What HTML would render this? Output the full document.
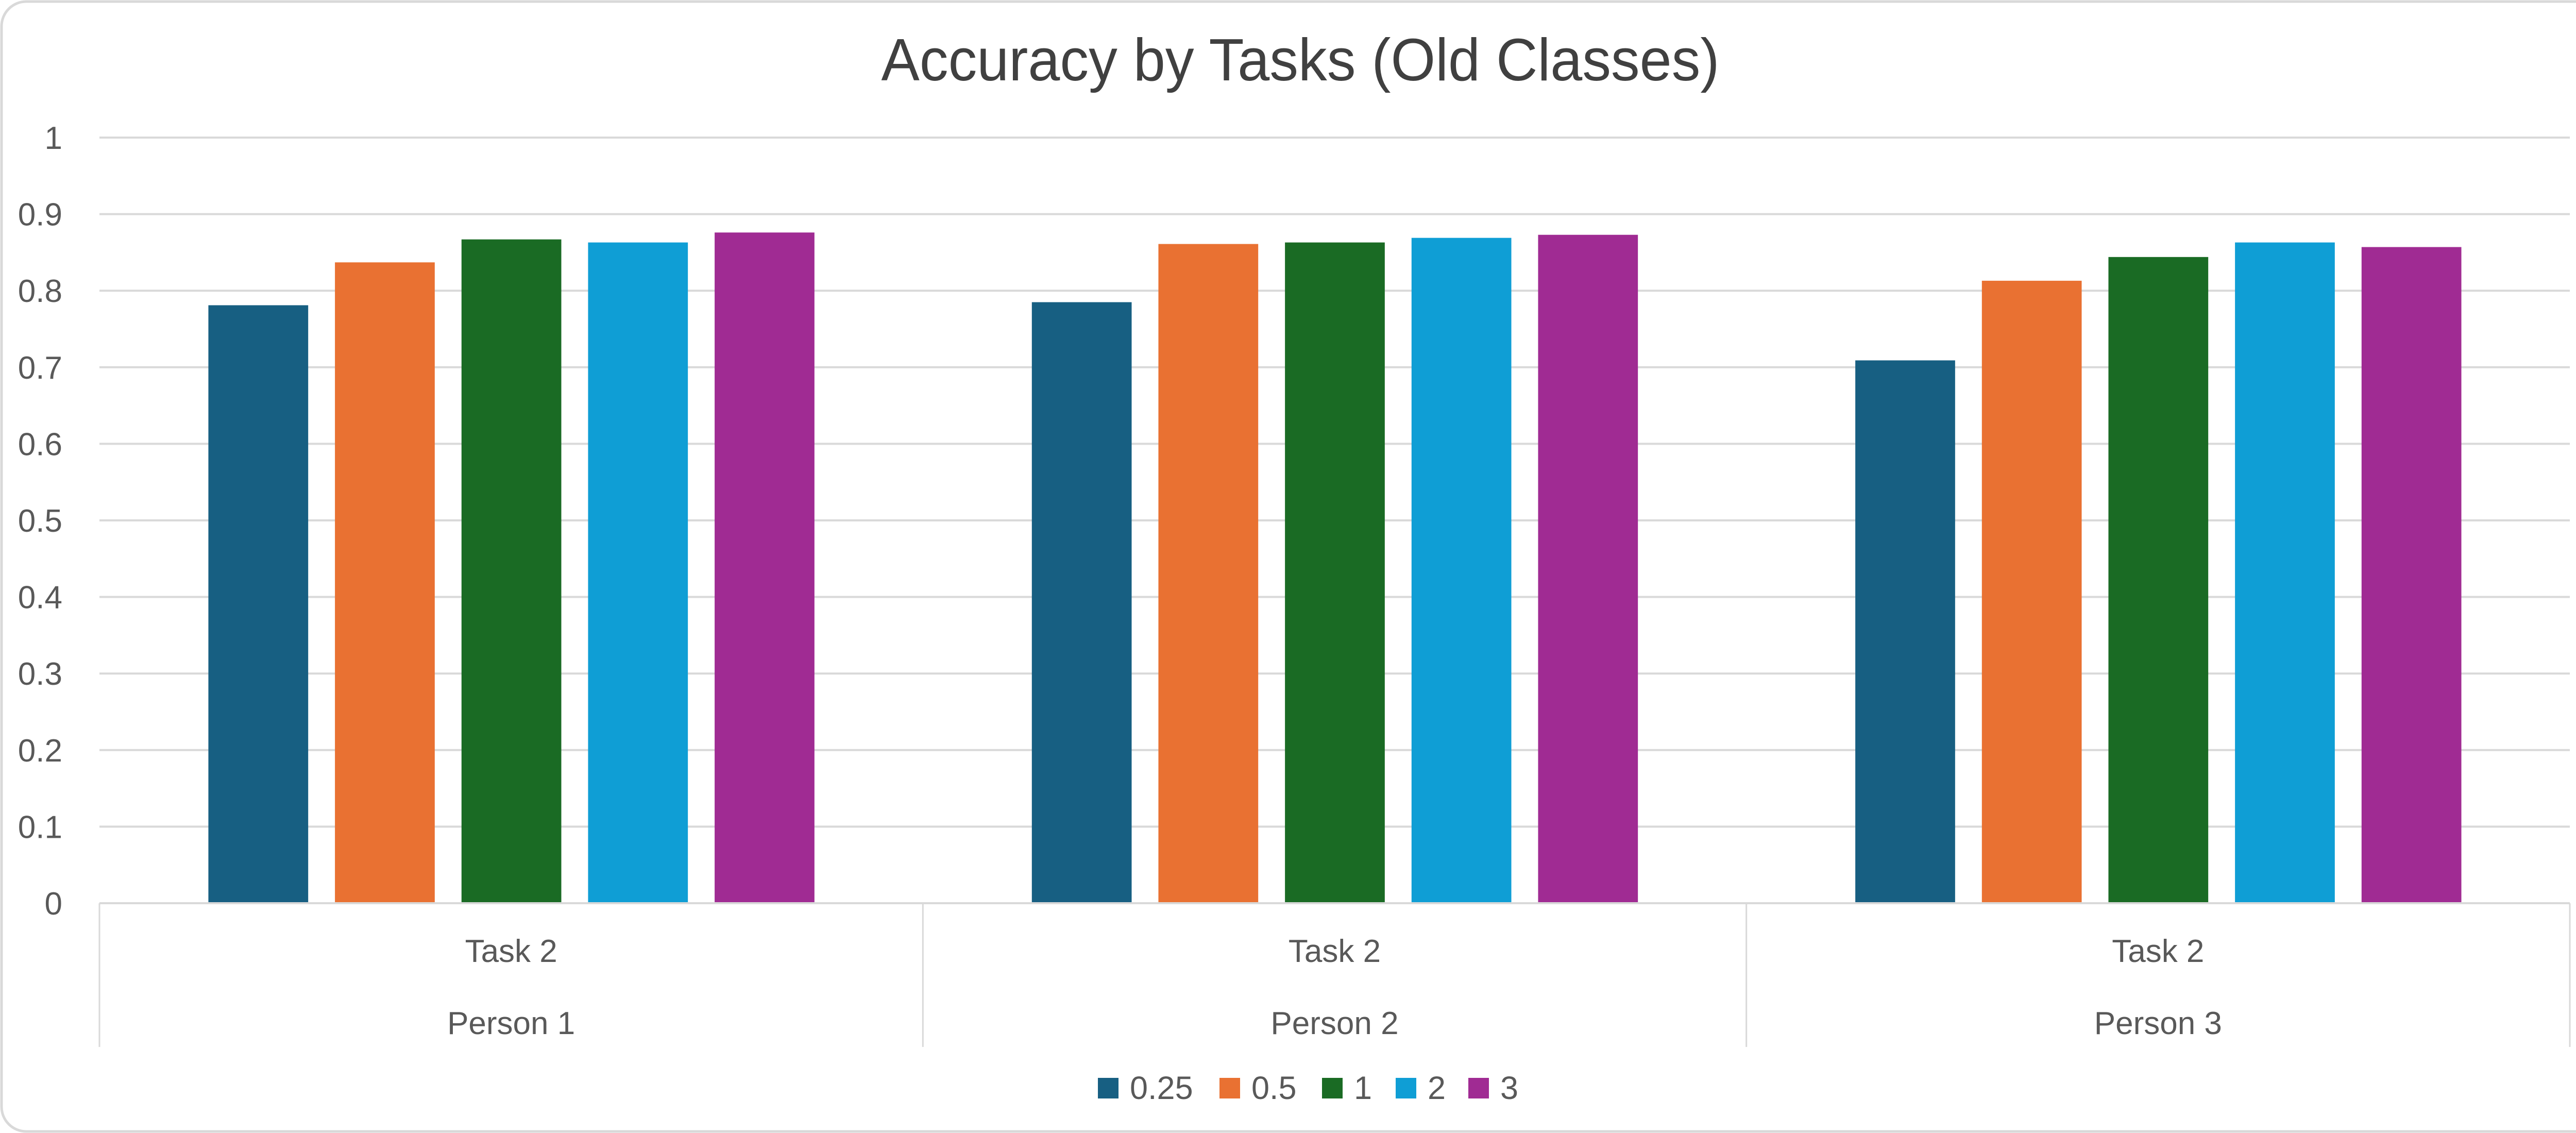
<!DOCTYPE html>
<html><head><meta charset="utf-8"><style>
html,body{margin:0;padding:0;background:#fff}
svg{display:block}
text{font-family:"Liberation Sans",sans-serif;fill:#595959}
</style></head><body>
<svg id="chart" width="5052" height="2199" viewBox="0 0 5052 2199" xmlns="http://www.w3.org/2000/svg">
<rect x="3" y="3" width="5046" height="2193" rx="48" fill="#fff" stroke="#d9d9d9" stroke-width="5"/>
<text x="2524" y="156" text-anchor="middle" font-size="116" style="fill:#404040" textLength="1627" lengthAdjust="spacingAndGlyphs">Accuracy by Tasks (Old Classes)</text>
<g id="grid"></g>
<g id="yticks"></g>
<g id="bars"></g>
<g id="xaxis"></g>
<g id="legend"></g>
</svg>
<script>
const categories = ["Person 1", "Person 2", "Person 3"];
const subLabels = ["Task 2", "Task 2", "Task 2"];
const seriesNames = ["0.25", "0.5", "1", "2", "3"];
const s025 = [0.781, 0.785, 0.709];
const s05 = [0.837, 0.861, 0.813];
const s1 = [0.867, 0.863, 0.844];
const s2 = [0.863, 0.869, 0.863];
const s3 = [0.876, 0.873, 0.857];
const yTicks = [0, 0.1, 0.2, 0.3, 0.4, 0.5, 0.6, 0.7, 0.8, 0.9, 1];
const yTickLabels = ["0", "0.1", "0.2", "0.3", "0.4", "0.5", "0.6", "0.7", "0.8", "0.9", "1"];

const colors = ["#175F82", "#E97132", "#1A6B24", "#0F9ED5", "#A02B93"];
const series = [s025, s05, s1, s2, s3];
const NS = "http://www.w3.org/2000/svg";
const plotL = 193, plotR = 4988, y0 = 1753, y1 = 267;
const yMin = 0, yMax = 1;
function yScale(v){ return y0 - (v - yMin) / (yMax - yMin) * (y0 - y1); }
const groupW = (plotR - plotL) / categories.length;
function groupX(i){ return plotL + i * groupW; }
const barW = groupW * 0.1212, barStep = groupW * 0.1537, barOff = groupW * 0.1323;
function barX(gi, si){ return groupX(gi) + barOff + si * barStep; }
function mk(tag, attrs, parent){ const e = document.createElementNS(NS, tag); for (const k in attrs) e.setAttribute(k, attrs[k]); parent.appendChild(e); return e; }

const grid = document.getElementById('grid');
const yt = document.getElementById('yticks');
yTicks.forEach((t, i) => {
  const y = yScale(t);
  if (t !== 0) {
    const l = mk('line', {x1: plotL, x2: plotR, y1: y, y2: y, stroke: '#d9d9d9', 'stroke-width': 4}, grid);
    
    
  }
  const tx = mk('text', {x: 121, y: y + 22, 'text-anchor': 'end', 'font-size': 62}, yt);
  tx.textContent = yTickLabels[i];
  
  
});

const bars = document.getElementById('bars');
series.forEach((s, si) => {
  s.forEach((v, gi) => {
    const y = yScale(v);
    const r = mk('rect', {x: barX(gi, si), y: y, width: barW, height: y0 - y, fill: colors[si]}, bars);
    
    
  });
});

const xa = document.getElementById('xaxis');
const base = mk('line', {x1: plotL, x2: plotR, y1: y0, y2: y0, stroke: '#d9d9d9', 'stroke-width': 4}, xa);


for (let i = 0; i <= categories.length; i++) {
  const x = groupX(i);
  const l = mk('line', {x1: x, x2: x, y1: y0, y2: 2032, stroke: '#d9d9d9', 'stroke-width': 3}, xa);
  
  
}
categories.forEach((c, i) => {
  const cx = groupX(i) + groupW / 2;
  const t1 = mk('text', {x: cx, y: 1867, 'text-anchor': 'middle', 'font-size': 62}, xa);
  t1.textContent = subLabels[i];
  
  
  const t2 = mk('text', {x: cx, y: 2007, 'text-anchor': 'middle', 'font-size': 62}, xa);
  t2.textContent = c;
  
  
});

const lg = document.getElementById('legend');
const legX = [2131, 2367, 2566, 2709, 2850];
seriesNames.forEach((n, i) => {
  const r = mk('rect', {x: legX[i], y: 2092, width: 40, height: 40, fill: colors[i]}, lg);
  
  
  const t = mk('text', {x: legX[i] + 62, y: 2133, 'font-size': 63}, lg);
  t.textContent = n;
  
  
});
</script>
</body></html>
